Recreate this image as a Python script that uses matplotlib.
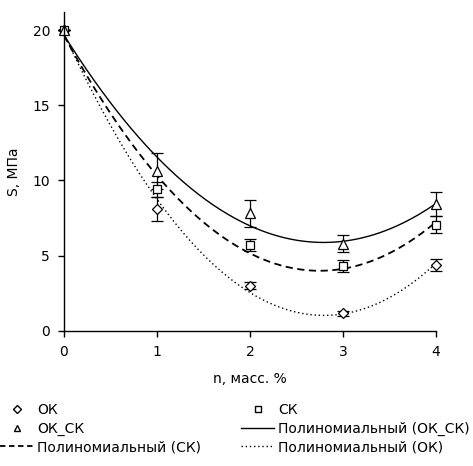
import numpy as np
import matplotlib
matplotlib.use("Agg")
import matplotlib.pyplot as plt
from matplotlib.lines import Line2D

x = [0, 1, 2, 3, 4]
ok = [20.0, 8.1, 3.0, 1.15, 4.4]
ok_err = [0.0, 0.8, 0.25, 0.15, 0.4]
sk = [20.0, 9.4, 5.7, 4.3, 7.05]
sk_err = [0.0, 0.5, 0.4, 0.4, 0.55]
oksk = [20.0, 10.6, 7.8, 5.8, 8.4]
oksk_err = [0.0, 1.2, 0.9, 0.55, 0.8]

plt.rcParams['font.family'] = ['DejaVu Sans']

fig = plt.figure(figsize=(4.73, 4.66), dpi=100)
ax = fig.add_axes([0.1353, 0.2903, 0.7865, 0.684])

xa = np.array(x, dtype=float)
xs = np.linspace(0, 4, 200)

def fit(y):
    c = np.polyfit(xa, np.array(y), 2)
    return np.polyval(c, xs)

ekw = dict(color='black', ecolor='black', elinewidth=0.9, capsize=4, capthick=0.9,
           linestyle='none', markerfacecolor='white', markeredgecolor='black',
           markeredgewidth=0.9)

def eb(y, e, m, ms):
    c = ax.errorbar(x, y, yerr=e, marker=m, markersize=ms, **ekw)
    for a in c.get_children():
        a.set_clip_on(False)
    c.lines[0].set_clip_on(False)
    for a in c.lines[1]:
        a.set_clip_on(False)
    for a in c.lines[2]:
        a.set_clip_on(False)
    return c

l_oksk, = ax.plot(xs, fit(oksk), color='black', lw=1.0, ls='-')
l_sk, = ax.plot(xs, fit(sk), color='black', lw=1.3, ls=(0, (4, 2.5)))
l_ok, = ax.plot(xs, fit(ok), color='black', lw=1.0, ls=(0, (1, 2)))

eb(ok, ok_err, 'D', 5)
eb(sk, sk_err, 's', 6)
eb(oksk, oksk_err, '^', 6.5)

ax.set_xlim(0, 4)
ax.set_ylim(0, 21.2)
ax.set_xticks(x)
ax.set_yticks([0, 5, 10, 15, 20])
ax.spines['top'].set_visible(False)
ax.spines['right'].set_visible(False)
ax.spines['left'].set_linewidth(1.0)
ax.spines['bottom'].set_linewidth(1.0)
ax.tick_params(direction='out', length=4, width=1.0, labelsize=10, pad=6)
ax.set_xlabel('n, масс. %', fontsize=10, labelpad=10)
ax.set_ylabel('S, МПа', fontsize=10, labelpad=8)

labels = ['ОК', 'ОК_СК', 'Полиномиальный (СК)', 'СК',
          'Полиномиальный (ОК_СК)', 'Полиномиальный (ОК)']
hk = [Line2D([], [], marker='D', markersize=4, ls='none', mfc='white', mec='black'),
      Line2D([], [], marker='^', markersize=5, ls='none', mfc='white', mec='black'),
      Line2D([], [], color='black', lw=1.3, ls=(0, (3, 2))),
      Line2D([], [], marker='s', markersize=5, ls='none', mfc='white', mec='black'),
      Line2D([], [], color='black', lw=1.0, ls='-'),
      Line2D([], [], color='black', lw=1.0, ls=(0, (1, 2)))]
fig.legend(hk, labels, ncol=2, loc='upper left', bbox_to_anchor=(0.0, 0.135),
           frameon=False, fontsize=10, handlelength=2.4, handletextpad=0.25,
           columnspacing=2.9, labelspacing=0.32, borderaxespad=0, borderpad=0)

fig.savefig('out.png', dpi=100)
